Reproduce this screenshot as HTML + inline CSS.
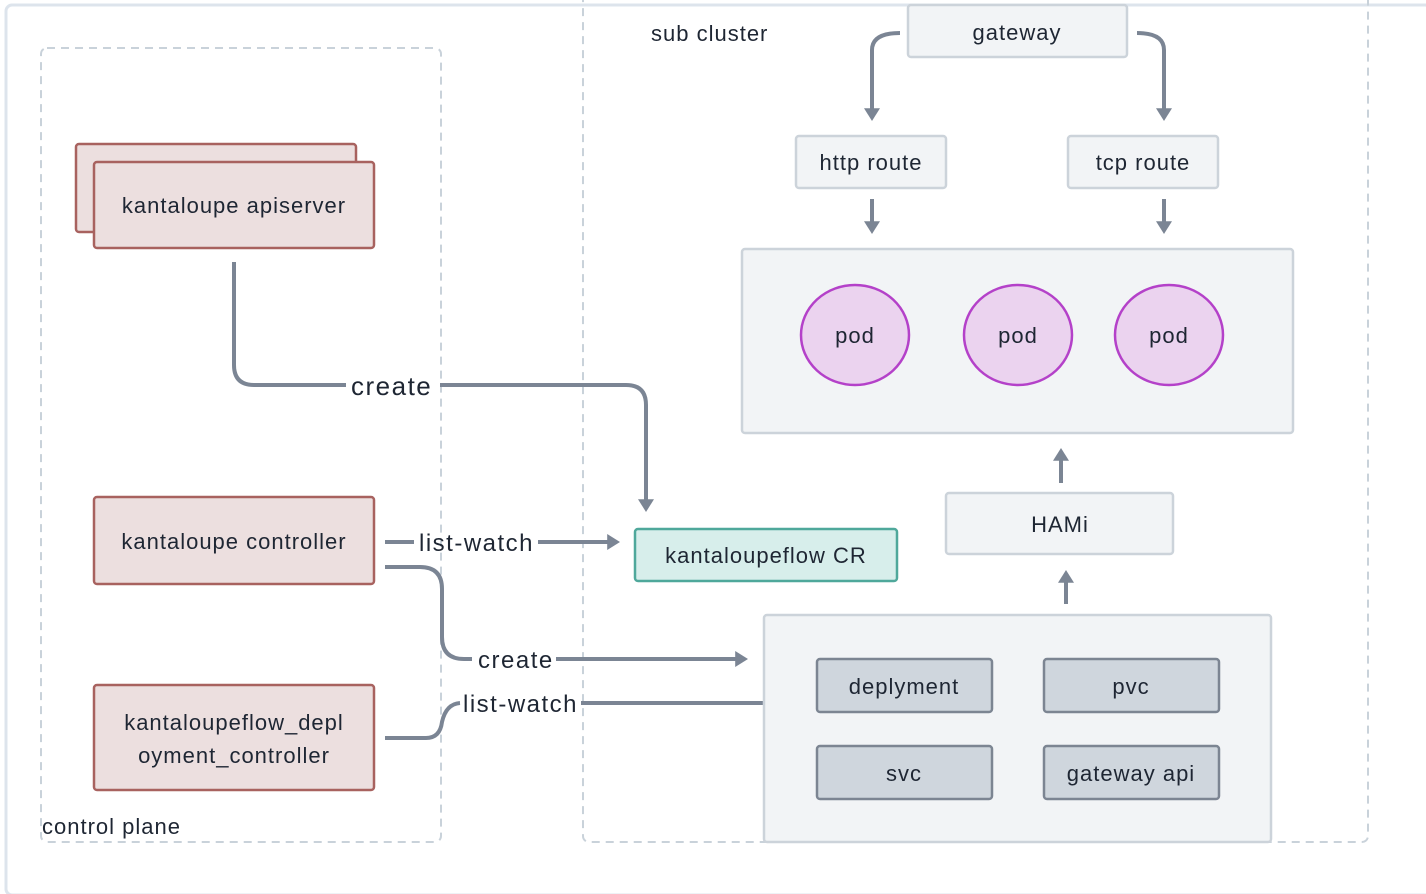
<!DOCTYPE html>
<html><head><meta charset="utf-8"><style>
html,body{margin:0;padding:0;background:#fff;}
svg{display:block;font-family:"Liberation Sans",sans-serif;}
text{fill:#1e2633;font-size:22px;letter-spacing:1px;}
.l{font-size:24px;letter-spacing:1.5px;}
</style></head><body>
<svg width="1426" height="894" viewBox="0 0 1426 894">
<defs>
<marker id="a" markerWidth="4" markerHeight="4" refX="2.2" refY="2" orient="auto" markerUnits="strokeWidth">
<path d="M0,0 L3.2,2 L0,4 Z" fill="#7b8594"/></marker>
</defs>
<rect x="6" y="5" width="1425" height="890" rx="6" fill="#fff" stroke="#dde4ec" stroke-width="3"/>
<rect x="41" y="48" width="400" height="794" rx="6" fill="none" stroke="#c9d2da" stroke-width="2" stroke-dasharray="8,6"/>
<rect x="583" y="-10" width="785" height="852" rx="6" fill="none" stroke="#c9d2da" stroke-width="2" stroke-dasharray="8,6"/>
<text x="651" y="41">sub cluster</text>
<text x="42" y="834">control plane</text>

<g fill="none" stroke="#7b8594" stroke-width="4">
<path d="M234,262 V365 Q234,385 254,385 H346"/>
<path d="M440,385 H626 Q646,385 646,405 V508" marker-end="url(#a)"/>
<path d="M385,542 H414"/>
<path d="M538,542 H616" marker-end="url(#a)"/>
<path d="M385,567 H420 Q442,567 442,589 V637 Q442,659 464,659 H472"/>
<path d="M556,659 H744" marker-end="url(#a)"/>
<path d="M385,738 H426 Q440,738 442,722 Q446,704 460,703"/>
<path d="M581,703 H764"/>
<path d="M900,33 Q872,33 872,50 V117" marker-end="url(#a)"/>
<path d="M1137,33 Q1164,33 1164,50 V117" marker-end="url(#a)"/>
<path d="M872,199 V230" marker-end="url(#a)"/>
<path d="M1164,199 V230" marker-end="url(#a)"/>
<path d="M1061,483 V452" marker-end="url(#a)"/>
<path d="M1066,604 V574" marker-end="url(#a)"/>
</g>
<text x="351" y="395" class="l" font-size="26" style="font-size:26px">create</text>
<text x="419" y="551" class="l">list-watch</text>
<text x="478" y="668" class="l">create</text>
<text x="463" y="712" class="l">list-watch</text>

<g fill="#ecdfdf" stroke="#a8625f" stroke-width="2.5">
<rect x="76" y="144" width="280" height="88" rx="3"/>
<rect x="94" y="162" width="280" height="86" rx="3"/>
<rect x="94" y="497" width="280" height="87" rx="3"/>
<rect x="94" y="685" width="280" height="105" rx="3"/>
</g>
<text x="234" y="213" text-anchor="middle">kantaloupe apiserver</text>
<text x="234" y="549" text-anchor="middle">kantaloupe controller</text>
<text x="234" y="730" text-anchor="middle">kantaloupeflow_depl</text>
<text x="234" y="763" text-anchor="middle">oyment_controller</text>

<rect x="635" y="529" width="262" height="52" rx="3" fill="#d7eeeb" stroke="#4fa89b" stroke-width="2.5"/>
<text x="766" y="563" text-anchor="middle">kantaloupeflow CR</text>

<g fill="#f2f4f6" stroke="#ccd3da" stroke-width="2.5">
<rect x="908" y="5" width="219" height="52" rx="3"/>
<rect x="796" y="136" width="150" height="52" rx="3"/>
<rect x="1068" y="136" width="150" height="52" rx="3"/>
<rect x="742" y="249" width="551" height="184" rx="3"/>
<rect x="946" y="493" width="227" height="61" rx="3"/>
<rect x="764" y="615" width="507" height="227" rx="3"/>
</g>
<text x="1017" y="40" text-anchor="middle">gateway</text>
<text x="871" y="170" text-anchor="middle">http route</text>
<text x="1143" y="170" text-anchor="middle">tcp route</text>
<text x="1060" y="532" text-anchor="middle">HAMi</text>

<g fill="#ebd3ef" stroke="#b441c9" stroke-width="2.5">
<ellipse cx="855" cy="335" rx="54" ry="50"/>
<ellipse cx="1018" cy="335" rx="54" ry="50"/>
<ellipse cx="1169" cy="335" rx="54" ry="50"/>
</g>
<text x="855" y="343" text-anchor="middle">pod</text>
<text x="1018" y="343" text-anchor="middle">pod</text>
<text x="1169" y="343" text-anchor="middle">pod</text>

<g fill="#cfd6dd" stroke="#7c8592" stroke-width="2.5">
<rect x="817" y="659" width="175" height="53" rx="3"/>
<rect x="1044" y="659" width="175" height="53" rx="3"/>
<rect x="817" y="746" width="175" height="53" rx="3"/>
<rect x="1044" y="746" width="175" height="53" rx="3"/>
</g>
<text x="904" y="694" text-anchor="middle">deplyment</text>
<text x="1131" y="694" text-anchor="middle">pvc</text>
<text x="904" y="781" text-anchor="middle">svc</text>
<text x="1131" y="781" text-anchor="middle">gateway api</text>
</svg>
</body></html>
